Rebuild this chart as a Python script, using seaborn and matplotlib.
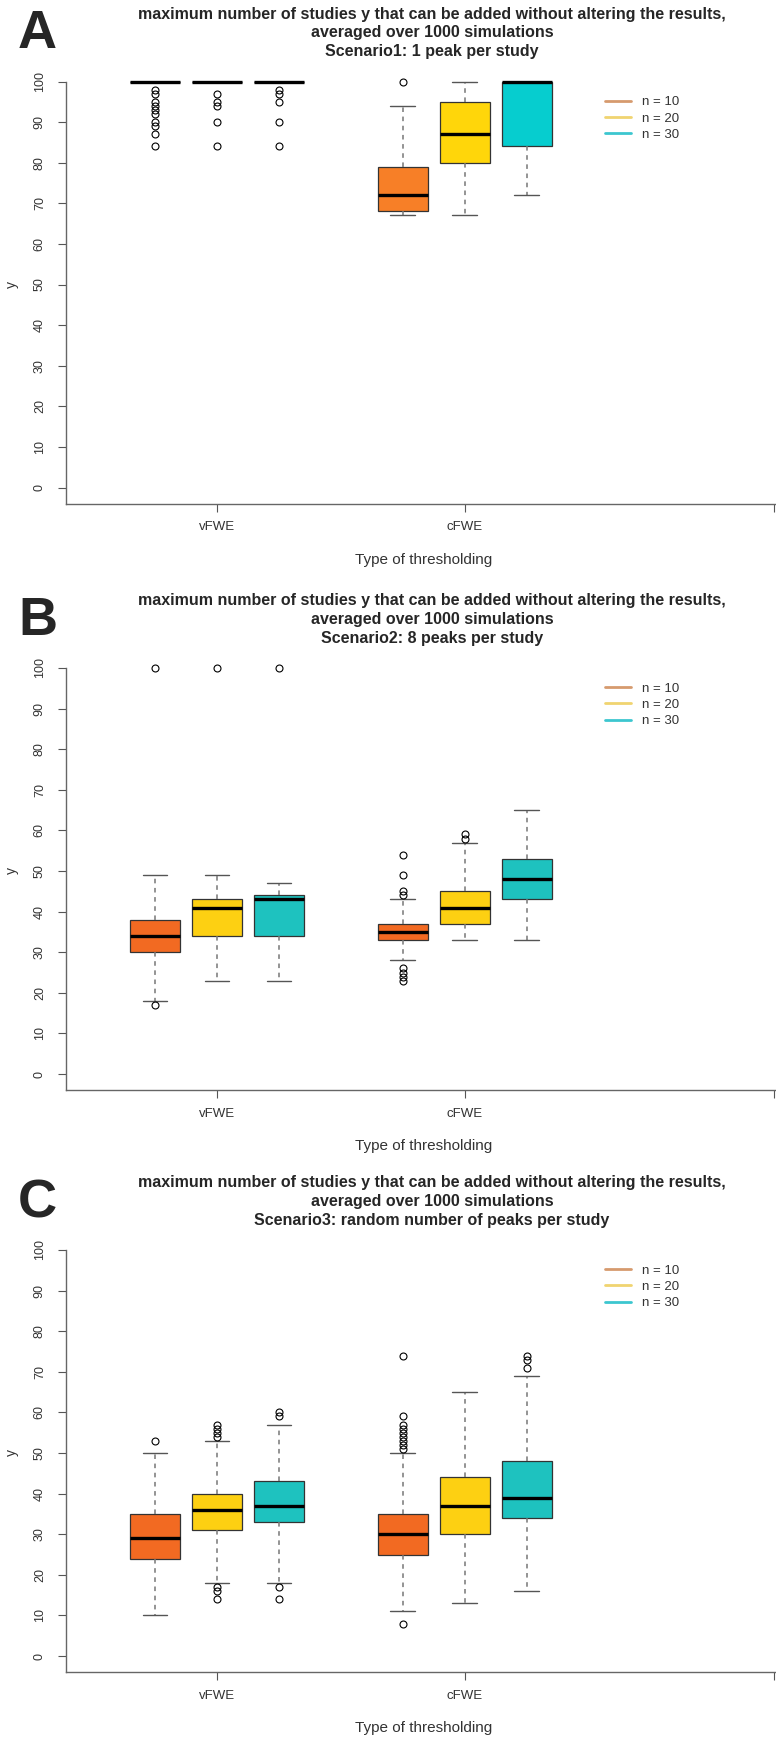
import matplotlib
matplotlib.use("Agg")
import matplotlib.pyplot as plt
from matplotlib.lines import Line2D
import seaborn as sns

# groups and series
groups = ["vFWE", "cFWE"]
sizes = ["n = 10", "n = 20", "n = 30"]
panel_letters = ["A", "B", "C"]
scenarios = ["Scenario1: 1 peak per study",
             "Scenario2: 8 peaks per study",
             "Scenario3: random number of peaks per study"]

# box stats, order: vFWE n10, n20, n30, cFWE n10, n20, n30
# each entry: (whislo, q1, med, q3, whishi)
stats_A = [(100, 100, 100, 100, 100), (100, 100, 100, 100, 100), (100, 100, 100, 100, 100),
           (67, 68, 72, 79, 94), (67, 80, 87, 95, 100), (72, 84, 100, 100, 100)]
fliers_A = [[98, 97, 95, 94, 93, 92, 90, 89, 87, 84], [97, 95, 94, 90, 84], [98, 97, 95, 90, 84],
            [100], [], []]

stats_B = [(18, 30, 34, 38, 49), (23, 34, 41, 43, 49), (23, 34, 43, 44, 47),
           (28, 33, 35, 37, 43), (33, 37, 41, 45, 57), (33, 43, 48, 53, 65)]
fliers_B = [[17, 100], [100], [100],
            [54, 49, 45, 44, 26, 25, 24, 23], [59, 58], []]

stats_C = [(10, 24, 29, 35, 50), (18, 31, 36, 40, 53), (18, 33, 37, 43, 57),
           (11, 25, 30, 35, 50), (13, 30, 37, 44, 65), (16, 34, 39, 48, 69)]
fliers_C = [[53], [57, 56, 55, 54, 17, 16, 14], [60, 59, 17, 14],
            [74, 59, 57, 56, 55, 54, 53, 52, 51, 8], [], [74, 73, 71]]

yticks = list(range(0, 101, 10))

sns.set_style("white")
plt.rcParams["font.family"] = ["Liberation Sans", "DejaVu Sans"]

W, H = 776, 1748
fig = plt.figure(figsize=(W / 100, H / 100), dpi=100)

colors_A = ["#F77F27", "#FFD60A", "#06CDCF"]
colors_BC = ["#F26A22", "#FDD012", "#1EC2BF"]
legend_cols = ["#D69A6E", "#F0D470", "#3CC6CF"]

# pixel row of the "100" tick in each panel, and pixels per y unit
tick100 = [81.5, 668, 1250]
scale = 4.06

positions = [1, 2, 3, 5, 6, 7]
all_stats = [stats_A, stats_B, stats_C]
all_fliers = [fliers_A, fliers_B, fliers_C]

for i in range(3):
    t100 = tick100[i]
    top = t100 - 4 * scale
    bot = t100 + 104 * scale
    ax = fig.add_axes([66 / W, 1 - bot / H, (W - 66) / W, (bot - top) / H])
    cols = colors_A if i == 0 else colors_BC

    bstats = []
    for (lo, q1, med, q3, hi), fl in zip(all_stats[i], all_fliers[i]):
        bstats.append(dict(whislo=lo, q1=q1, med=med, q3=q3, whishi=hi, fliers=fl))

    bp = ax.bxp(bstats, positions=positions, widths=0.8, patch_artist=True,
                boxprops=dict(edgecolor="#333333", linewidth=0.9),
                medianprops=dict(color="black", linewidth=2.4, solid_capstyle="butt"),
                whiskerprops=dict(color="#777777", linewidth=1.1, linestyle=(0, (3, 3))),
                capprops=dict(color="#555555", linewidth=1.0),
                flierprops=dict(marker="o", markerfacecolor="none", markeredgecolor="black",
                                markersize=5, markeredgewidth=0.8))
    for k, patch in enumerate(bp["boxes"]):
        patch.set_facecolor(cols[k % 3])

    ax.set_xlim(-0.435, 11.02)
    ax.set_ylim(-4, 104)
    ax.set_yticks(yticks)
    ax.set_yticklabels([str(t) for t in yticks], rotation=90, va="center", fontsize=9, color="#333333")
    ax.set_xticks([2, 6, 10.99])
    ax.set_xticklabels(groups + [""], fontsize=9.5, color="#333333")
    ax.tick_params(axis="both", direction="out", length=5.5, width=0.8, color="#555555",
                   left=True, bottom=True)
    ax.tick_params(axis="y", pad=9)
    ax.tick_params(axis="x", pad=7)
    sns.despine(ax=ax)
    ax.spines["left"].set_bounds(-4, 100)
    for s in ["left", "bottom"]:
        ax.spines[s].set_color("#666666")
        ax.spines[s].set_linewidth(1.0)

    # x axis title, centred about 56 px under the axis line
    ax.set_xlabel("Type of thresholding", fontsize=11, color="#333333")
    ax.xaxis.label.set_va("center")
    ax.xaxis.set_label_coords((424 - 66) / (W - 66), -56 / (bot - top))

    # y label
    ydata50 = t100 + 50 * scale
    fig.text(12 / W, 1 - ydata50 / H, "y", rotation=90, ha="center", va="center",
             fontsize=10, color="#333333")

    # title and panel letter
    fig.text(432 / W, 1 - (t100 - 48.5) / H,
             "maximum number of studies y that can be added without altering the results,\n"
             "averaged over 1000 simulations\n" + scenarios[i],
             ha="center", va="center", fontsize=11.5, fontweight="bold", linespacing=1.3)
    fig.text(18 / W, 1 - (t100 - 33) / H, panel_letters[i], ha="left", va="baseline",
             fontsize=39, fontweight="heavy")

    handles = [Line2D([0], [0], color=c, lw=2) for c in legend_cols]
    ax.legend(handles, sizes, frameon=False, loc="upper left",
              bbox_to_anchor=(598 / W, 1 - (t100 + 8) / H), bbox_transform=fig.transFigure,
              fontsize=9.5, handlelength=2.0, handletextpad=0.8, borderpad=0,
              labelspacing=0.3, labelcolor="#333333")

fig.savefig("out.png", dpi=100)
